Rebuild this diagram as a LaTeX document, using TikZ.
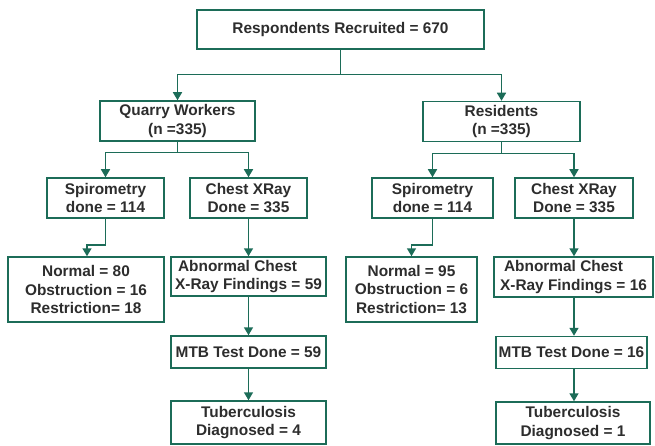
\documentclass[tikz,border=0pt]{standalone}
\usepackage{fontspec}
\setmainfont{Liberation Sans}
\usetikzlibrary{arrows.meta}
\definecolor{boxg}{RGB}{28,108,88}
\definecolor{txt}{RGB}{45,45,45}
\begin{document}
\begin{tikzpicture}[x=1pt,y=-1pt,
  box/.style={draw=boxg,line width=1.5pt,rectangle,inner sep=0pt,align=center,
    text=txt,font=\fontsize{15.4}{18.5}\selectfont\bfseries,fill=white},
  conn/.style={draw=boxg,line width=1.5pt},
  arr/.style={conn,-{Triangle[width=9pt,length=8pt]}}]
\useasboundingbox[fill=white] (0,0) rectangle (655,446);
\node[box,minimum width=287pt,minimum height=39pt] (top) at (340.5,29.5) {Respondents Recruited = 670};
\node[box,minimum width=155pt,minimum height=40pt] (qw) at (177.5,121) {Quarry Workers\\(n =335)};
\node[box,minimum width=157pt,minimum height=40pt] (res) at (501.5,121.5) {Residents\\(n =335)};
\node[box,minimum width=117pt,minimum height=40pt] (spq) at (105.5,198) {Spirometry\\done = 114};
\node[box,minimum width=117pt,minimum height=40pt] (cxq) at (248.5,198) {Chest XRay\\Done = 335};
\node[box,minimum width=121pt,minimum height=40pt] (spr) at (432.5,198) {Spirometry\\done = 114};
\node[box,minimum width=118pt,minimum height=40pt] (cxr) at (574,198) {Chest XRay\\Done = 335};
\node[box,minimum width=156pt,minimum height=65pt] (nq) at (86,289.5) {Normal = 80\\Obstruction = 16\\Restriction= 18};
\node[box,align=left,minimum width=155pt,minimum height=39pt] (aq) at (248.5,276.5) {\hspace*{3pt}Abnormal Chest\\X-Ray Findings = 59};
\node[box,minimum width=131pt,minimum height=65pt] (nr) at (411.5,289.5) {Normal = 95\\Obstruction = 6\\Restriction= 13};
\node[box,align=left,minimum width=159pt,minimum height=40pt] (ar) at (573.5,277) {\hspace*{4pt}Abnormal Chest\\X-Ray Findings = 16};
\node[box,minimum width=155pt,minimum height=32pt] (mq) at (248.5,352) {MTB Test Done = 59};
\node[box,minimum width=151pt,minimum height=32pt] (mr) at (571.5,352.5) {MTB Test Done = 16};
\node[box,minimum width=155pt,minimum height=43pt] (tq) at (248.5,422.5) {Tuberculosis\\Diagnosed = 4};
\node[box,minimum width=154pt,minimum height=42pt] (tr) at (573,423) {Tuberculosis\\Diagnosed = 1};
\draw[arr] (top.south) -- ++(0,25) -| (qw.north);
\draw[arr] (top.south) -- ++(0,25) -| (res.north);
\draw[arr] (qw.south) -- ++(0,11) -| (spq.north);
\draw[arr] (qw.south) -- ++(0,11) -| (cxq.north);
\draw[arr] (res.south) -- ++(0,11.5) -| (spr.north);
\draw[arr] (res.south) -- ++(0,11.5) -| (cxr.north);
\draw[arr] (spq.south) -- ++(0,26) -| ([xshift=1pt]nq.north);
\draw[arr] (spr.south) -- ++(0,26) -| (nr.north);
\draw[arr] (cxq.south) -- (aq.north);
\draw[arr] (cxr.south) -- (cxr.south |- ar.north);
\draw[arr] (aq.south) -- (mq.north);
\draw[arr] (ar.south -| cxr.south) -- (cxr.south |- mr.north);
\draw[arr] (mq.south) -- (tq.north);
\draw[arr] (cxr.south |- mr.south) -- (cxr.south |- tr.north);
\end{tikzpicture}
\end{document}
